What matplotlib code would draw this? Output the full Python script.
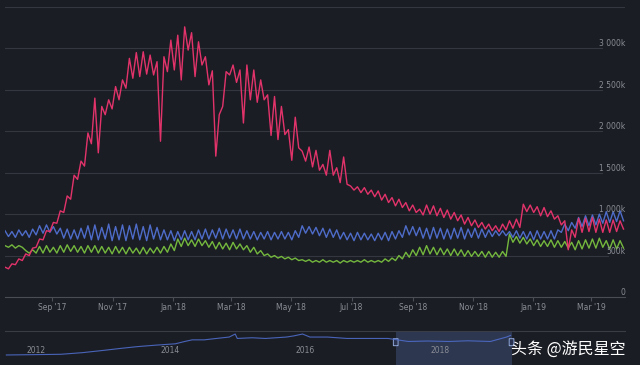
import numpy as np
import pandas as pd
import matplotlib
matplotlib.use("Agg")
import matplotlib.pyplot as plt
import matplotlib.dates as mdates
import matplotlib.transforms as mtrans
from matplotlib.patches import FancyBboxPatch

# two samples a week (weekend peak / midweek dip), players in thousands
start = "2017-07-15"
n_pts = 180

pink = [360, 340, 400, 390, 460, 440, 520, 500, 590, 600,
        700, 690, 800, 790, 900, 890, 1040, 1020, 1220, 1180,
        1470, 1420, 1640, 1580, 1980, 1850, 2400, 1740, 2300, 2200,
        2380, 2270, 2540, 2380, 2620, 2520, 2880, 2640, 2950, 2660,
        2960, 2690, 2920, 2680, 2840, 1880, 2900, 2720, 3100, 2740,
        3160, 2620, 3260, 2980, 3190, 2660, 3080, 2800, 2900, 2560,
        2730, 1700, 2200, 2300, 2720, 2680, 2800, 2590, 2740, 2100,
        2800, 2380, 2740, 2350, 2620, 2380, 2440, 1950, 2420, 1900,
        2300, 1960, 2020, 1650, 2170, 1800, 1760, 1640, 1810, 1570,
        1770, 1530, 1600, 1470, 1770, 1470, 1560, 1380, 1690, 1360,
        1340, 1290, 1330, 1260, 1320, 1240, 1290, 1210, 1280, 1170,
        1240, 1140, 1200, 1100, 1180, 1080, 1140, 1040, 1110, 1020,
        1060, 990, 1110, 1000, 1100, 980, 1070, 960, 1050, 940,
        1020, 920, 990, 880, 960, 860, 930, 840, 900, 820,
        880, 800, 860, 790, 880, 810, 920, 830, 940, 840,
        1120, 1030, 1110, 1020, 1090, 980, 1080, 970, 1040, 940,
        980, 870, 920, 570, 810, 720, 950, 780, 950, 790,
        960, 780, 940, 780, 930, 780, 930, 790, 920, 820]

blue = [800, 730, 790, 720, 810, 740, 800, 720, 820, 750,
        860, 770, 870, 780, 850, 760, 830, 710, 820, 700,
        810, 700, 830, 710, 860, 690, 870, 690, 840, 700,
        880, 680, 850, 690, 870, 680, 860, 700, 880, 690,
        850, 680, 870, 700, 840, 690, 810, 690, 800, 680,
        790, 690, 800, 690, 790, 690, 810, 700, 820, 700,
        810, 710, 830, 700, 820, 710, 810, 700, 820, 700,
        800, 700, 790, 690, 780, 700, 790, 690, 780, 700,
        790, 700, 780, 690, 800, 720, 860, 770, 850, 760,
        840, 740, 830, 720, 820, 720, 810, 700, 780, 690,
        770, 680, 780, 690, 770, 690, 760, 680, 770, 690,
        780, 680, 790, 700, 800, 720, 860, 750, 850, 740,
        840, 710, 830, 700, 840, 710, 830, 700, 820, 700,
        830, 710, 840, 700, 820, 720, 830, 710, 820, 720,
        810, 730, 800, 740, 800, 740, 790, 720, 800, 710,
        790, 700, 790, 690, 800, 700, 790, 700, 800, 700,
        810, 780, 880, 800, 900, 830, 960, 850, 980, 860,
        990, 870, 1000, 890, 1030, 900, 1030, 910, 1040, 920]

green = [620, 600, 630, 590, 620, 600, 560, 530, 570, 530,
         610, 530, 620, 540, 600, 530, 620, 540, 630, 550,
         620, 540, 610, 530, 620, 540, 620, 530, 610, 530,
         600, 520, 610, 530, 600, 520, 600, 530, 590, 520,
         600, 520, 590, 530, 600, 530, 610, 540, 640, 560,
         700, 610, 710, 620, 690, 610, 700, 620, 680, 600,
         670, 580, 660, 580, 650, 570, 660, 580, 640, 570,
         620, 540, 600, 520, 560, 500, 520, 480, 500, 470,
         490, 460, 480, 450, 470, 440, 450, 430, 450, 420,
         440, 420, 450, 420, 440, 420, 440, 410, 440, 420,
         440, 420, 440, 420, 450, 420, 440, 420, 440, 420,
         460, 430, 470, 440, 500, 460, 540, 480, 570, 500,
         600, 510, 620, 520, 600, 510, 590, 510, 580, 500,
         580, 500, 570, 490, 560, 490, 550, 490, 550, 480,
         550, 480, 540, 480, 550, 490, 760, 660, 730, 650,
         720, 640, 700, 620, 690, 610, 680, 610, 690, 600,
         680, 600, 670, 590, 660, 570, 680, 580, 690, 590,
         700, 590, 710, 600, 680, 580, 690, 580, 680, 590]

y_ticks = [0, 500, 1000, 1500, 2000, 2500, 3000]

# navigator overview (fractional year, relative level)
nav_year = [2011.75, 2012.3, 2012.56, 2012.88, 2013.2, 2013.47, 2013.7, 2013.96,
            2014.26, 2014.4, 2014.51, 2014.69, 2014.87, 2015.06, 2015.15, 2015.18,
            2015.4, 2015.6, 2015.91, 2016.02, 2016.15, 2016.26, 2016.52, 2016.81,
            2017.11, 2017.42, 2017.72, 2018.0, 2018.33, 2018.6, 2018.94, 2019.18, 2019.24]
nav_val = [0, 2, 3, 10, 20, 29, 36, 42,
           48, 58, 65, 65, 71, 77, 90, 71,
           74, 71, 77, 82, 90, 77, 77, 71,
           71, 71, 58, 60, 58, 61, 58, 77, 84]
nav_labels = [2012, 2014, 2016, 2018]

bg = "#1b1d24"
txt = "#8a8d95"
grid = "#34373f"
c_pink, c_blue, c_green = "#e3336b", "#4e6cc9", "#74b83e"

dates = pd.date_range(start, periods=n_pts, freq="84h")

fig = plt.figure(figsize=(6.4, 3.65), dpi=100, facecolor=bg)
W, H = 640, 365

ax = fig.add_axes([5 / W, (H - 297) / H, 620 / W, 290 / H])
ax.set_facecolor(bg)
ax.plot(dates, green, color=c_green, lw=1.0)
ax.plot(dates, blue, color=c_blue, lw=1.0)
ax.plot(dates, pink, color=c_pink, lw=1.0)
ax.set_ylim(0, 3500)
ax.set_xlim(pd.Timestamp("2017-07-15"), pd.Timestamp("2019-04-04"))

for sp in ["top", "left", "right"]:
    ax.spines[sp].set_visible(False)
ax.spines["bottom"].set_color("#4a4d55")
ax.spines["bottom"].set_linewidth(0.8)
ax.set_yticks([])

# grid lines stop short of the right-hand labels
ax.axhline(3500, color=grid, lw=0.8, zorder=0)
for v in y_ticks[1:]:
    end = 0.972 if v == 500 else 0.963
    ax.axhline(v, xmin=0, xmax=end, color=grid, lw=0.8, zorder=0)
for v in y_ticks:
    lab = "0" if v == 0 else f"{v:,}".replace(",", " ") + "k"
    ax.text(1.0, v, lab, transform=ax.get_yaxis_transform(), ha="right", va="bottom",
            fontsize=5.5, color=txt)

ax.xaxis.set_major_locator(mdates.MonthLocator(bymonth=[1, 3, 5, 7, 9, 11]))
ax.xaxis.set_major_formatter(mdates.DateFormatter("%b '%y"))
ax.tick_params(axis="x", colors="#4a4d55", labelcolor=txt, labelsize=5.5, length=3, pad=1.5)

# navigator
nav = fig.add_axes([5 / W, 0, 620 / W, 34 / H])
nav.set_facecolor(bg)
nav.set_xlim(2011.73, 2020.94)
nav.set_ylim(-43, 103)
nav.plot(nav_year, nav_val, color=c_blue, lw=0.8, alpha=0.9)
t0 = 2017 + (dates[0].dayofyear - 1) / 365
t1 = 2019 + (93) / 365
nav.axvspan(t0, t1, color="#34415f", alpha=0.75, lw=0)
for sp in ["left", "right", "bottom"]:
    nav.spines[sp].set_visible(False)
nav.spines["top"].set_color("#3a3d45")
nav.spines["top"].set_linewidth(0.8)
nav.set_xticks([])
nav.set_yticks([])
off = mtrans.ScaledTranslation(3 / 100, 0, fig.dpi_scale_trans)
for yr in nav_labels:
    nav.text(yr, 0.44, str(yr), transform=mtrans.blended_transform_factory(nav.transData, nav.transAxes) + off,
             ha="left", va="center", fontsize=5.5, color=txt)
for t in [t0, t1]:
    h = FancyBboxPatch((t - 0.03, 40), 0.06, 30, boxstyle="round,pad=0.005",
                       transform=nav.transData, fc="#2a3350", ec="#8fa6d8", lw=0.7)
    nav.add_patch(h)

fig.text(511 / W, (H - 349) / H, "头条 @游民星空", fontsize=11.5, color="white",
         family=["Noto Sans CJK SC", "DejaVu Sans"], ha="left", va="center")

fig.savefig("out.png", dpi=100, facecolor=bg)
